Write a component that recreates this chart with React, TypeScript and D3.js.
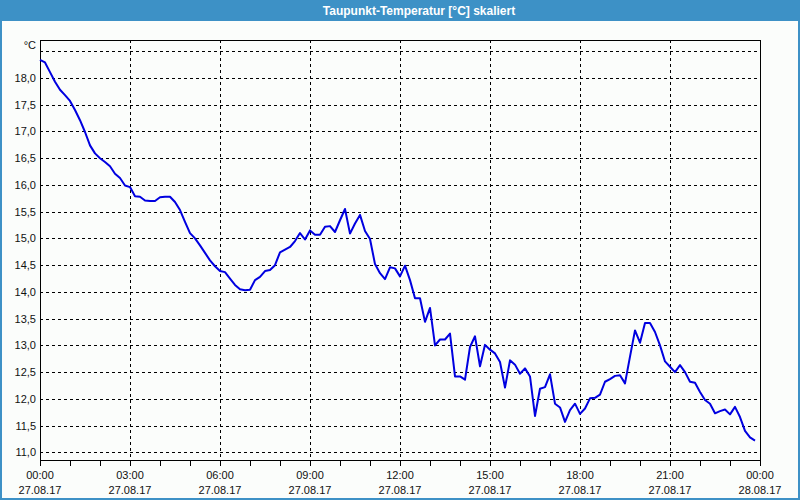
import React from "react";
import * as d3 from "d3";

const TITLE = "Taupunkt-Temperatur [°C] skaliert";
const UNIT = "°C";
const START = new Date(2017, 7, 27, 0, 0);
const END = new Date(2017, 7, 28, 0, 0);
const STEP_MINUTES = 10;
const Y_TICKS = [11.0, 11.5, 12.0, 12.5, 13.0, 13.5, 14.0, 14.5, 15.0, 15.5, 16.0, 16.5, 17.0, 17.5, 18.0];
const Y_GRID = [...Y_TICKS, 18.5];
const X_TICK_HOURS = [0, 3, 6, 9, 12, 15, 18, 21, 24];

const VALUES = [
  18.34, 18.29, 18.11, 17.93, 17.78, 17.68, 17.57, 17.40, 17.21, 16.99,
  16.74, 16.59, 16.50, 16.43, 16.35, 16.21, 16.13, 15.99, 15.96, 15.79,
  15.78, 15.71, 15.70, 15.70, 15.77, 15.78, 15.78, 15.68, 15.53, 15.31,
  15.10, 15.00, 14.87, 14.73, 14.59, 14.48, 14.39, 14.37, 14.25, 14.13,
  14.05, 14.03, 14.04, 14.22, 14.28, 14.39, 14.41, 14.50, 14.74, 14.79,
  14.84, 14.95, 15.10, 14.98, 15.15, 15.07, 15.07, 15.22, 15.23, 15.12,
  15.34, 15.55, 15.09, 15.28, 15.44, 15.14, 14.99, 14.52, 14.35, 14.24,
  14.46, 14.44, 14.29, 14.49, 14.22, 13.88, 13.88, 13.44, 13.70, 13.00,
  13.11, 13.11, 13.22, 12.42, 12.42, 12.36, 12.97, 13.17, 12.61, 13.01,
  12.92, 12.85, 12.69, 12.21, 12.72, 12.64, 12.47, 12.57, 12.42, 11.68,
  12.19, 12.22, 12.46, 11.91, 11.84, 11.57, 11.79, 11.91, 11.72, 11.82,
  12.01, 12.02, 12.08, 12.32, 12.37, 12.43, 12.44, 12.29, 12.79, 13.28,
  13.05, 13.42, 13.42, 13.25, 13.00, 12.70, 12.60, 12.50, 12.63, 12.50,
  12.32, 12.30, 12.13, 11.98, 11.91, 11.73, 11.77, 11.80, 11.71, 11.85,
  11.66, 11.40, 11.28, 11.22,
];

const W = 800;
const H = 500;
const PL = 40, PR = 760, PT = 40, PB = 460;
const FONT = "'Liberation Sans', Arial, sans-serif";
const FRAME = "#3d91c6";

export default function App() {
  const x = d3.scaleTime().domain([START, END]).range([PL, PR]);
  const y = d3.scaleLinear().domain([10.857, 18.71]).range([PB, PT]);
  const data = VALUES.map((v, i) => ({ t: new Date(START.getTime() + i * STEP_MINUTES * 60000), v }));
  const line = d3
    .line<{ t: Date; v: number }>()
    .x((d) => x(d.t))
    .y((d) => y(d.v));
  const hourTicks = d3.timeHour.every(1)!.range(START, new Date(END.getTime() + 1));
  const fmtTime = d3.timeFormat("%H:%M");
  const fmtDate = d3.timeFormat("%d.%m.%y");
  const majors = X_TICK_HOURS.map((h) => new Date(START.getTime() + h * 3600000));
  const fmtY = (v: number) => v.toFixed(1).replace(".", ",");

  return (
    <svg
      width={W}
      height={H}
      style={{ position: "absolute", left: 0, top: 0, display: "block" }}
      fontFamily={FONT}
    >
      <rect x={0} y={0} width={W} height={H} fill="#fbfdfb" />
      <rect x={1} y={1} width={W - 2} height={H - 2} fill="none" stroke={FRAME} strokeWidth={2} />
      <rect x={0} y={0} width={W} height={21} fill={FRAME} />
      <text x={419} y={15} textAnchor="middle" fill="#ffffff" fontSize={12} fontWeight="bold">
        {TITLE}
      </text>

      {/* grid */}
      {Y_GRID.map((v) => (
        <line key={"gy" + v} x1={PL} x2={PR} y1={Math.round(y(v)) + 0.5} y2={Math.round(y(v)) + 0.5}
          stroke="#000" strokeWidth={1} strokeDasharray="3,3" />
      ))}
      {majors.slice(1, -1).map((d, i) => (
        <line key={"gx" + i} x1={Math.round(x(d)) + 0.5} x2={Math.round(x(d)) + 0.5} y1={PT} y2={PB}
          stroke="#000" strokeWidth={1} strokeDasharray="3,3" />
      ))}

      {/* frame */}
      <rect x={PL + 0.5} y={PT + 0.5} width={PR - PL} height={PB - PT} fill="none" stroke="#000" strokeWidth={1} />

      {/* x ticks */}
      {hourTicks.map((d, i) => (
        <line key={"xt" + i} x1={Math.round(x(d)) + 0.5} x2={Math.round(x(d)) + 0.5} y1={PB} y2={PB + 6}
          stroke="#000" strokeWidth={1} />
      ))}
      {majors.map((d, i) => (
        <g key={"xl" + i} fontSize={11} fill="#111" textAnchor="middle">
          <text x={x(d)} y={479}>{fmtTime(d)}</text>
          <text x={x(d)} y={494}>{fmtDate(d)}</text>
        </g>
      ))}

      {/* y labels */}
      {Y_TICKS.map((v) => (
        <text key={"yl" + v} x={36} y={y(v) + 4} textAnchor="end" fontSize={11} fill="#111">
          {fmtY(v)}
        </text>
      ))}
      <text x={36} y={49} textAnchor="end" fontSize={11} fill="#111">{UNIT}</text>

      <path d={line(data) || ""} fill="none" stroke="#0000e0" strokeWidth={2} strokeLinejoin="round" />
    </svg>
  );
}
